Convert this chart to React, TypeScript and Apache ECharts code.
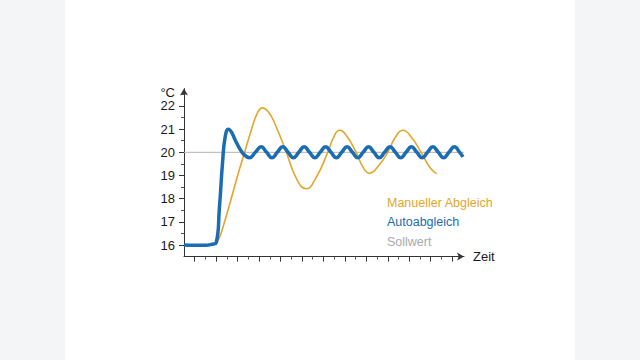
import React, { useEffect, useRef } from "react";
import * as echarts from "echarts";

const yLabels = [16, 17, 18, 19, 20, 21, 22];
const yMinorTicks = [16.5, 17.5, 18.5, 19.5, 20.5, 21.5, 22.5];
const xMajorTicks = [1, 3, 5, 7, 9, 11, 13, 15, 17, 19, 21, 23, 25];
const xMinorTicks = [2, 4, 6, 8, 10, 12, 14, 16, 18, 20, 22, 24];

const autoX = [0, 1, 2, 2.6, 3.0, 3.3, 3.6, 3.85, 4.15, 4.45, 4.8, 5.2, 5.6, 6.1, 6.65, 7.2, 7.7, 8.2, 8.7, 9.2, 9.7, 10.2, 10.7, 11.2, 11.7, 12.2, 12.7, 13.2, 13.7, 14.2, 14.7, 15.2, 15.7, 16.2, 16.7, 17.2, 17.7, 18.2, 18.7, 19.2, 19.7, 20.2, 20.7, 21.2, 21.7, 22.2, 22.7, 23.2, 23.7, 24.2, 24.7, 25.2, 25.7, 26.0];
const autoY = [16.0, 15.99, 15.99, 16.03, 16.1, 17.6, 19.6, 20.7, 21.0, 20.85, 20.5, 20.15, 19.9, 19.77, 20.0, 20.24, 20.0, 19.77, 20.0, 20.24, 20.0, 19.77, 20.0, 20.24, 20.0, 19.77, 20.0, 20.24, 20.0, 19.77, 20.0, 20.24, 20.0, 19.77, 20.0, 20.24, 20.0, 19.77, 20.0, 20.24, 20.0, 19.77, 20.0, 20.24, 20.0, 19.77, 20.0, 20.24, 20.0, 19.77, 20.0, 20.24, 20.0, 19.8];

const manX = [3.1, 3.45, 4.4, 5.0, 5.65, 6.3, 6.8, 7.3, 7.9, 8.5, 9.5, 10.5, 11.4, 12.3, 13.4, 14.0, 14.5, 15.1, 16.05, 16.7, 17.3, 18.1, 19.0, 19.7, 20.4, 21.2, 22.1, 23.0, 23.56];
const manY = [16.12, 16.5, 18.0, 19.0, 20.0, 21.0, 21.65, 21.92, 21.72, 21.2, 20.05, 18.85, 18.43, 18.9, 20.0, 20.7, 20.95, 20.75, 20.0, 19.35, 19.1, 19.4, 20.0, 20.65, 20.95, 20.65, 20.0, 19.3, 19.08];

const setX = [0, 26.1];
const setY = [20, 20];

const ORANGE = "#e3a62b";
const BLUE = "#1b6cb0";
const GRAY = "#b4b4b4";
const FONT = "'Liberation Sans', Arial, sans-serif";

export default function App() {
  const ref = useRef<HTMLDivElement>(null);
  useEffect(() => {
    if (!ref.current) return;
    const chart = echarts.init(ref.current, null, { renderer: "svg" });
    const zip = (xs: number[], ys: number[]) => xs.map((x, i) => [x, ys[i]]);
    const yBase = {
      type: "value",
      min: 15.5,
      max: 22.75,
      position: "left",
      splitLine: { show: false },
    };
    const xBase = {
      type: "value",
      min: 0,
      max: 26.1,
      position: "bottom",
      splitLine: { show: false },
    };
    chart.setOption({
      animation: false,
      backgroundColor: "#ffffff",
      textStyle: { fontFamily: FONT },
      graphic: [
        { type: "rect", shape: { x: 0, y: 0, width: 65, height: 360 }, style: { fill: "#f4f5f7" }, z: -10 },
        { type: "rect", shape: { x: 575, y: 0, width: 65, height: 360 }, style: { fill: "#f4f5f7" }, z: -10 },
      ],
      grid: { left: 184, right: 176, top: 88.6, bottom: 103.4, containLabel: false },
      legend: {
        orient: "vertical",
        left: 376,
        top: 191,
        itemWidth: 0,
        itemHeight: 0,
        itemGap: 6.5,
        selectedMode: false,
        textStyle: { fontSize: 12.5, fontFamily: FONT },
        data: [
          { name: "Manueller Abgleich", textStyle: { color: ORANGE } },
          { name: "Autoabgleich", textStyle: { color: BLUE } },
          { name: "Sollwert", textStyle: { color: "#aaaaaa" } },
        ],
      },
      xAxis: [
        {
          ...xBase,
          name: "Zeit",
          nameLocation: "end",
          nameGap: 9,
          nameTextStyle: { color: "#1a1a1a", fontSize: 13, fontFamily: FONT, verticalAlign: "middle" },
          axisLine: { show: true, symbol: ["none", "arrow"], symbolSize: [6, 7], lineStyle: { color: "#333", width: 1 } },
          axisTick: { show: true, customValues: xMajorTicks, length: 5, inside: false, lineStyle: { color: "#333" } },
          axisLabel: { show: false },
        },
        {
          ...xBase,
          axisLine: { show: false },
          axisTick: { show: true, customValues: xMinorTicks, length: 3, inside: false, lineStyle: { color: "#555" } },
          axisLabel: { show: false },
        },
      ],
      yAxis: [
        {
          ...yBase,
          name: "°C",
          nameLocation: "end",
          nameGap: -10,
          nameTextStyle: { color: "#1a1a1a", fontSize: 13, fontFamily: FONT, align: "right", padding: [0, 9, 0, 0] },
          axisLine: { show: true, symbol: ["none", "arrow"], symbolSize: [6, 7], lineStyle: { color: "#333", width: 1 } },
          axisTick: { show: true, customValues: yLabels, length: 5, lineStyle: { color: "#333" } },
          axisLabel: { show: true, customValues: yLabels, margin: 9, color: "#1a1a1a", fontSize: 13, fontFamily: FONT },
        },
        {
          ...yBase,
          axisLine: { show: false },
          axisTick: { show: true, customValues: yMinorTicks, length: 3, lineStyle: { color: "#555" } },
          axisLabel: { show: false },
        },
      ],
      series: [
        {
          name: "Sollwert",
          type: "line",
          data: zip(setX, setY),
          showSymbol: false,
          lineStyle: { color: GRAY, width: 1 },
          itemStyle: { color: GRAY },
          z: 1,
        },
        {
          name: "Manueller Abgleich",
          type: "line",
          data: zip(manX, manY),
          smooth: 0.5,
          showSymbol: false,
          lineStyle: { color: ORANGE, width: 1.6 },
          itemStyle: { color: ORANGE },
          z: 2,
        },
        {
          name: "Autoabgleich",
          type: "line",
          data: zip(autoX, autoY),
          smooth: 0.5,
          showSymbol: false,
          lineStyle: { color: BLUE, width: 3.5 },
          itemStyle: { color: BLUE },
          z: 3,
        },
      ],
    });
    return () => chart.dispose();
  }, []);
  return (
    <div style={{ position: "fixed", left: 0, top: 0, width: 640, height: 360, background: "#f4f5f7" }}>
      <div ref={ref} style={{ width: 640, height: 360 }} />
    </div>
  );
}
